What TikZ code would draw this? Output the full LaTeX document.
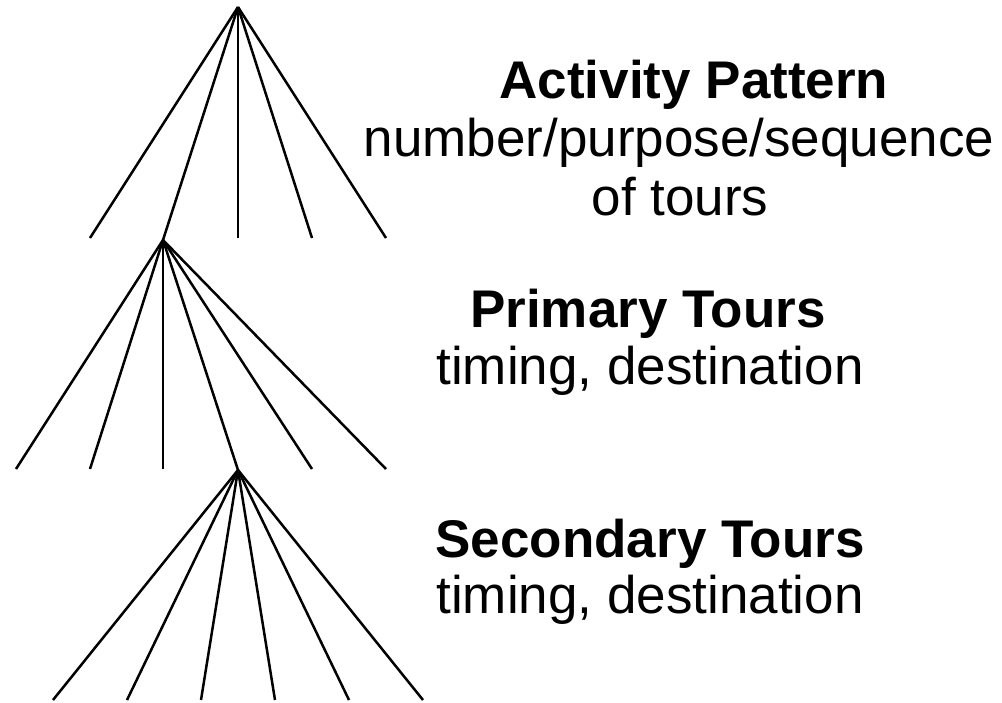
\documentclass[tikz,border=0pt]{standalone}
\usepackage{fontspec}
\setmainfont{Liberation Sans}
\begin{document}
\begin{tikzpicture}[x=1pt,y=-1pt,
  branch/.style={line width=2.5pt},
  head/.style={font=\fontsize{53}{58}\selectfont\bfseries, anchor=base, inner sep=0pt},
  sub/.style={font=\fontsize{53}{58}\selectfont, anchor=base, inner sep=0pt}]
\useasboundingbox (0,0) rectangle (1002,702);

% branching points of the three levels
\coordinate (A) at (238,7);
\coordinate (B) at (163,240);
\coordinate (C) at (238,470);

% level 1: activity pattern
\foreach \x [count=\i] in {90,238,312,386}
  \coordinate (a\i) at (\x,238);
\foreach \i in {1,...,4}
  \draw[branch] (A) -- (a\i);
\draw[branch] (A) -- (B);

% level 2: primary tours
\foreach \x [count=\i] in {16,90,163,312,386}
  \coordinate (b\i) at (\x,469);
\foreach \i in {1,...,5}
  \draw[branch] (B) -- (b\i);
\draw[branch] (B) -- (C);

% level 3: secondary tours
\foreach \x [count=\i] in {53,127,201,275,349,423}
  \coordinate (c\i) at (\x,700);
\foreach \i in {1,...,6}
  \draw[branch] (C) -- (c\i);

% labels
\node[head] (t1) at (694,98) {Activity Pattern};
\node[sub] (t1b) at (679,156) {number/purpose/sequence};
\node[sub] (t1c) at (680,215) {of tours};

\node[head] (t2) at (648,327) {Primary Tours};
\node[sub] (t2b) at (650,384) {timing, destination};

\node[head] (t3) at (650,557) {Secondary Tours};
\node[sub] (t3b) at (650,613) {timing, destination};
\end{tikzpicture}
\end{document}
